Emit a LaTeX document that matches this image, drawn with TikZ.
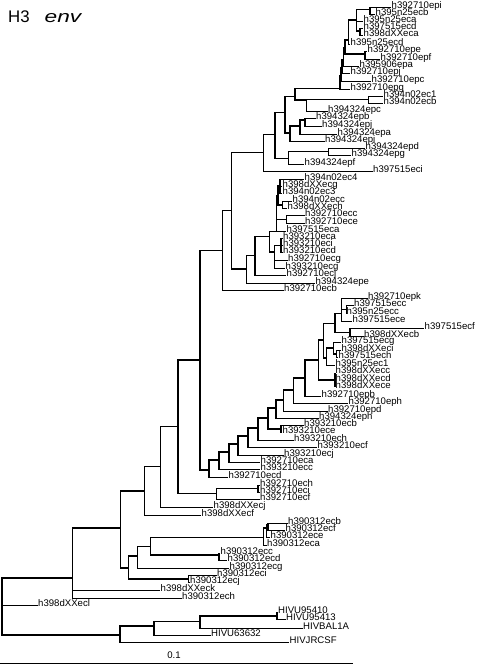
\documentclass[tikz,border=0pt]{standalone}
\usepackage{fontspec}
\setmainfont{Liberation Sans}
\usepackage{graphicx}
\usepackage{tikz}

\begin{document}
\begin{tikzpicture}[x=1pt,y=-1pt,
  branch/.style={line width=1.2pt},
  lbl/.style={anchor=base west,inner sep=0.5pt,yshift=-1pt,font=\fontsize{9.6}{10}\selectfont}]

\useasboundingbox (0,0) rectangle (479,665);

\node[anchor=base west,inner sep=0pt,font=\fontsize{16.8}{18}\selectfont] (title) at (8,22) {H3\hspace{15pt}\scalebox{1.35}[1]{\textit{env}}};

%Leaves
\foreach \n/\x/\y/\t in {
  a1/391/7.5/h392710epi, a2/375/14.8/h395n25ecb, a3/363/21.5/h395n25eca,
  a4/363/28.8/h397515ecd, a5/363/35.8/h398dXXeca, a6/350/44.5/h395n25ecd,
  a7/367/51.5/h392710epe, a8/380/59.2/h392710epf, a9/359/66.2/h395906epa,
  a10/350/73.8/h392710epj, a11/371/81.2/h392710epc, a12/350/89.2/h392710epg,
  b1/383/96.5/h394n02ec1, b2/383/103.2/h394n02ecb, b3/327.5/111.5/h394324epc,
  b4/315.5/118.5/h394324epb, b5/321.5/126.2/h394324epj, b6/337/134.2/h394324epa,
  b7/324.5/141.2/h394324epi, b8/365/148.5/h394324epd, b9/351/155.8/h394324epg,
  b10/304/164.2/h394324epf, b11/372.5/171.5/h397515eci,
  c1/304/179.5/h394n02ec4, c2/282/186.2/h398dXXecg, c3/282/193.2/h394n02ec3,
  c4/292/201.2/h394n02ecc, c5/287/208.5/h398dXXech, c6/304.5/215.8/h392710ecc,
  c7/304.5/223.5/h392710ece, c8/286/231.2/h397515eca, c9/282.5/238.2/h393210eca,
  c10/282.5/245.5/h393210eci, c11/282.5/252.8/h393210ecd, c12/287.5/260.8/h392710ecg,
  c13/285/268.2/h393210ecg, c14/286/275.2/h392710ecj, c15/315/283.2/h394324epe,
  c16/283.5/290.8/h392710ecb,
  d1/367.5/298.5/h392710epk, d2/353.5/305.8/h397515ecc, d3/346/313.2/h395n25ecc,
  d4/352/321.2/h397515ece, d5/424/328.5/h397515ecf, d6/363.5/336.2/h398dXXecb,
  d7/341/342.8/h397515ecg, d8/341/350.5/h398dXXeci, d9/338/357.8/h397515ech,
  d10/335/365.5/h395n25ec1, d11/335/372.8/h398dXXecc, d12/335/380.2/h398dXXecd,
  d13/335/387.2/h398dXXece, d14/321/396.2/h392710epb, d15/348/403.2/h392710eph,
  d16/327.5/411.2/h392710epd, d17/318.5/418.2/h394324eph, d18/303.5/425.8/h393210ecb,
  d19/282/432.8/h393210ece, d20/293.5/440.2/h393210ech, d21/317/447.8/h393210ecf,
  d22/283.5/455.2/h393210ecj, d23/260/462.8/h392710eca, d24/260/469.5/h393210ecc,
  d25/228/477.5/h392710ecd,
  e1/259.5/485.2/h392710ech, e2/259.5/492.5/h392710eci, e3/259.5/499.2/h392710ecf,
  e4/213/507.5/h398dXXecj, e5/201/515.8/h398dXXecf,
  f1/287.5/523.2/h390312ecb, f2/285/530.5/h390312ecf, f3/270/537.8/h390312ece,
  f4/266.5/545.2/h390312eca, f5/220/553.2/h390312ecc, f6/227/560.2/h390312ecd,
  f7/229/568.5/h390312ecg, f8/216.5/575.2/h390312eci, f9/189.5/582.8/h390312ecj,
  f10/160/590.5/h398dXXeck, f11/181.5/598.5/h390312ech, f12/37.5/605.2/h398dXXecl,
  g1/277.5/612.5/HIVU95410, g2/285.5/619.5/HIVU95413, g3/302.5/628.2/HIVBAL1A,
  g4/210.5/635.2/HIVU63632, g5/289/642.8/HIVJRCSF}
{
  \coordinate (\n) at (\x,\y);
  \node[lbl] (t\n) at (\n) {\t};
}

%Inner nodes
\coordinate (T1) at (370,9.3);
\coordinate (T2) at (360,31);
\coordinate (T3) at (356.7,20);
\coordinate (T4) at (348.3,40);
\coordinate (T5) at (365,54);
\coordinate (T6) at (345,48);
\coordinate (T7) at (343.5,60);
\coordinate (T8) at (342,68);
\coordinate (T9) at (341,76);
\coordinate (TOP) at (340,88.3);
\coordinate (N1) at (368.3,99.5);
\coordinate (N2) at (306.7,100);
\coordinate (W1a1) at (295,96.7);
\coordinate (N3) at (305,120);
\coordinate (N4) at (300,126);
\coordinate (N5) at (290,133);
\coordinate (W1a) at (285,112.3);
\coordinate (N6) at (328.3,151.7);
\coordinate (W1b) at (288.3,158.3);
\coordinate (W1) at (275,134.3);
\coordinate (W) at (263.3,152.7);
\coordinate (Z1a) at (280,186);
\coordinate (Z1b) at (282.5,205);
\coordinate (Z1) at (278,196);
\coordinate (Z1c) at (286.7,219.5);
\coordinate (Z1d) at (276.7,231.2);
\coordinate (Z2a) at (281,245.5);
\coordinate (Z2c) at (274.3,252);
\coordinate (Z) at (269.3,236.7);
\coordinate (Y) at (255,255.7);
\coordinate (X) at (246.7,269);
\coordinate (V) at (231.7,210.7);
\coordinate (Q) at (222.7,250.7);
\coordinate (U1b) at (346.7,309.5);
\coordinate (U1a) at (341.7,313.3);
\coordinate (U1c) at (350,332.3);
\coordinate (U1) at (335,323.3);
\coordinate (U2b) at (336.5,354);
\coordinate (U2a) at (333.3,348);
\coordinate (U2c) at (326.7,358);
\coordinate (U3) at (323.3,340);
\coordinate (U4) at (335,380);
\coordinate (U5) at (318.3,360);
\coordinate (U6) at (305,378);
\coordinate (U7) at (293.3,390);
\coordinate (U8) at (283.3,400);
\coordinate (U9) at (276,408);
\coordinate (UB) at (281,429);
\coordinate (U10) at (268,418);
\coordinate (U11) at (258,428);
\coordinate (U12) at (248,436);
\coordinate (U13) at (238,444);
\coordinate (U14) at (229,452);
\coordinate (U15) at (219,460);
\coordinate (U16) at (209,470);
\coordinate (M) at (200,360);
\coordinate (N0) at (258,488.5);
\coordinate (N) at (216.7,493.3);
\coordinate (L) at (178,426.7);
\coordinate (K) at (160.7,466.7);
\coordinate (C) at (144.3,491);
\coordinate (J) at (268,525);
\coordinate (I) at (266.7,528);
\coordinate (G) at (263.3,537.3);
\coordinate (H) at (219,555);
\coordinate (F) at (150.7,546.7);
\coordinate (E) at (137.7,556);
\coordinate (D2) at (188.3,579);
\coordinate (D) at (128.3,568);
\coordinate (B) at (120.7,528);
\coordinate (A) at (72.7,578);
\coordinate (O3) at (277,616);
\coordinate (O2) at (200,621.7);
\coordinate (O1) at (154,626);
\coordinate (OUT) at (120,635);
\coordinate (root) at (2,605);

%Branches
\foreach \p/\c in {
  T1/a1, T1/a2, T2/a4, T2/a5, T3/T1, T3/a3, T3/T2, T4/T3, T4/a6, T5/a7, T5/a8,
  T6/T4, T6/T5, T7/T6, T7/a9, T8/T7, T8/a10, T9/T8, T9/a11, TOP/T9, TOP/a12,
  N1/b1, N1/b2, N2/N1, N2/b3, W1a1/TOP, W1a1/N2, N3/b4, N3/b5, N4/N3, N4/b6,
  N5/N4, N5/b7, W1a/W1a1, W1a/N5, N6/b8, N6/b9, W1b/N6, W1b/b10, W1/W1a, W1/W1b,
  W/W1, W/b11,
  Z1a/c1, Z1a/c2, Z1a/c3, Z1b/c4, Z1b/c5, Z1/Z1a, Z1/Z1b, Z1c/c6, Z1c/c7,
  Z1d/Z1, Z1d/Z1c, Z1d/c8, Z2a/c9, Z2a/c10, Z2a/c11, Z2c/Z2a, Z2c/c12, Z2c/c13,
  Z/Z1d, Z/Z2c, Y/Z, Y/c14, X/Y, X/c15, V/W, V/X, Q/V, Q/c16,
  U1b/d2, U1b/d3, U1a/d1, U1a/U1b, U1a/d4, U1c/d5, U1c/d6, U1/U1a, U1/U1c,
  U2b/d8, U2b/d9, U2a/d7, U2a/U2b, U2c/U2a, U2c/d10, U3/U1, U3/U2c,
  U4/d11, U4/d12, U4/d13, U5/U3, U5/U4, U6/U5, U6/d14, U7/U6, U7/d15,
  U8/U7, U8/d16, U9/U8, U9/d17, UB/d18, UB/d19, U10/U9, U10/UB, U11/U10, U11/d20,
  U12/U11, U12/d21, U13/U12, U13/d22, U14/U13, U14/d23, U15/U14, U15/d24,
  U16/U15, U16/d25,
  M/Q, M/U16, N0/e1, N0/e2, N/N0, N/e3, L/M, L/N, K/L, K/e4, C/K, C/e5,
  J/f1, J/f2, I/J, I/f3, G/I, G/f4, H/f5, H/f6, F/G, F/H, E/F, E/f7,
  D2/f8, D2/f9, D/E, D/D2, B/C, B/D, A/B, A/f10, A/f11,
  O3/g1, O3/g2, O2/O3, O2/g3, O1/O2, O1/g4, OUT/O1, OUT/g5,
  root/A, root/f12, root/OUT}
  \draw[branch] (\p) |- (\c);

%Scale
\coordinate (s0) at (0,663.5);
\coordinate (s1) at (353,663.5);
\draw[branch] (s0) -- (s1);
\node[font=\fontsize{9.6}{10}\selectfont] (slabel) at (174,655) {0.1};

\end{tikzpicture}
\end{document}
